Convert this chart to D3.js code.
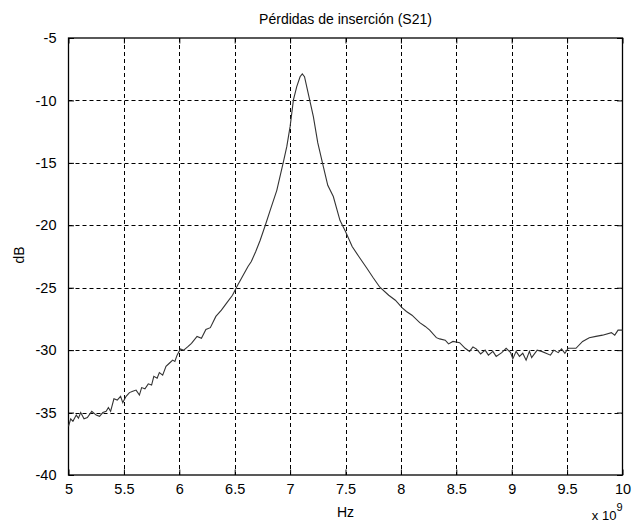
<!DOCTYPE html>
<html>
<head>
<meta charset="utf-8">
<script src="https://cdn.jsdelivr.net/npm/d3@7"></script>
<style>
  body{margin:0;background:#fff;}
  text{font-family:"Liberation Sans",Arial,sans-serif;fill:#000;}
</style>
</head>
<body>
<div id="chart"></div>
<script>
// frequency in units of 1e9 Hz
var freq=[5.00,5.02,5.04,5.07,5.09,5.11,5.14,5.17,5.21,5.25,5.28,5.31,5.34,5.36,5.38,5.41,5.44,5.47,5.49,
  5.52,5.55,5.58,5.61,5.64,5.66,5.69,5.72,5.75,5.77,5.80,5.82,5.85,5.88,5.91,5.94,5.96,5.98,6.01,6.04,
  6.08,6.11,6.16,6.20,6.24,6.28,6.33,6.38,6.43,6.48,6.52,6.57,6.62,6.65,6.69,6.73,6.78,6.82,6.88,6.94,
  6.97,7.00,7.03,7.06,7.09,7.11,7.13,7.17,7.21,7.25,7.30,7.34,7.39,7.45,7.50,7.56,7.62,7.69,7.75,7.81,
  7.89,7.95,8.01,8.05,8.10,8.17,8.22,8.26,8.32,8.35,8.40,8.43,8.47,8.53,8.58,8.62,8.65,8.68,8.72,8.76,
  8.79,8.83,8.86,8.91,8.95,8.99,9.01,9.04,9.07,9.10,9.13,9.16,9.18,9.23,9.27,9.31,9.35,9.38,9.42,9.45,
  9.48,9.51,9.58,9.64,9.70,9.76,9.82,9.90,9.93,9.96,10.0];
var s21=[-36.1,-35.5,-35.7,-35.2,-35.45,-35.0,-35.5,-35.4,-34.9,-35.2,-35.3,-35.0,-34.9,-34.6,-34.9,-33.9,-34.0,-33.7,-34.2,
  -33.7,-33.4,-33.3,-33.2,-33.6,-33.0,-33.1,-32.7,-32.8,-32.1,-32.25,-31.8,-32.0,-31.3,-31.05,-30.8,-30.9,-30.4,-29.9,-30.0,
  -29.7,-29.45,-28.9,-29.05,-28.35,-28.2,-27.3,-26.8,-26.2,-25.6,-24.9,-24.1,-23.3,-22.9,-22.1,-21.2,-19.9,-18.8,-17.2,-14.9,
  -13.7,-12.1,-9.96,-8.9,-8.1,-7.88,-8.1,-9.7,-11.3,-13.4,-15.3,-16.8,-17.7,-19.6,-20.5,-21.7,-22.5,-23.4,-24.2,-24.96,
  -25.6,-26.0,-26.6,-26.9,-27.2,-27.8,-28.1,-28.4,-29.0,-29.1,-29.2,-29.5,-29.3,-29.4,-29.85,-30.1,-29.75,-29.9,-30.3,-30.0,
  -30.4,-30.1,-30.5,-30.2,-29.85,-30.2,-30.7,-30.1,-30.5,-30.25,-30.8,-30.1,-30.6,-30.0,-30.1,-30.25,-30.4,-30.0,-30.2,-29.9,
  -30.25,-29.85,-29.85,-29.3,-29.0,-28.9,-28.8,-28.6,-28.8,-28.4,-28.4];
var xTicks=[5,5.5,6,6.5,7,7.5,8,8.5,9,9.5,10];
var yTicks=[-40,-35,-30,-25,-20,-15,-10,-5];
var title='Pérdidas de inserción (S21)';
var xLabel='Hz';
var yLabel='dB';

var width=632, height=524;
var plotLeft=68.5, plotRight=622.5, plotTop=38, plotBottom=475;

var svg=d3.select('#chart').append('svg')
  .attr('width',width)
  .attr('height',height);

var x=d3.scaleLinear().domain([5,10]).range([plotLeft,plotRight]);
var y=d3.scaleLinear().domain([-40,-5]).range([plotBottom,plotTop]);

// plain hyphen minus, like the original figure
function fmt(d){return String(d);}

// grid
svg.append('g').selectAll('line')
  .data(xTicks.slice(1,-1))
  .enter().append('line')
  .attr('x1',function(d){return Math.round(x(d))+0.5;})
  .attr('x2',function(d){return Math.round(x(d))+0.5;})
  .attr('y1',plotTop).attr('y2',plotBottom)
  .attr('stroke','#000').attr('stroke-width',1)
  .attr('stroke-dasharray','4,3');
svg.append('g').selectAll('line')
  .data(yTicks.slice(1,-1))
  .enter().append('line')
  .attr('y1',function(d){return Math.round(y(d))+0.5;})
  .attr('y2',function(d){return Math.round(y(d))+0.5;})
  .attr('x1',plotLeft).attr('x2',plotRight)
  .attr('stroke','#000').attr('stroke-width',1)
  .attr('stroke-dasharray','4,3');

// axes, ticks pointing inward on all sides
var tk=5.5;
svg.append('g').attr('transform','translate(0,'+plotBottom+')')
  .call(d3.axisBottom(x).tickValues(xTicks).tickSizeInner(-tk).tickSizeOuter(0).tickPadding(9).tickFormat(fmt))
  .call(function(g){g.select('.domain').remove();});
svg.append('g').attr('transform','translate(0,'+plotTop+')')
  .call(d3.axisTop(x).tickValues(xTicks).tickSizeInner(-tk).tickSizeOuter(0).tickFormat(''))
  .call(function(g){g.select('.domain').remove();});
svg.append('g').attr('transform','translate('+plotLeft+',0)')
  .call(d3.axisLeft(y).tickValues(yTicks).tickSizeInner(-tk).tickSizeOuter(0).tickPadding(12).tickFormat(fmt))
  .call(function(g){g.select('.domain').remove();});
svg.append('g').attr('transform','translate('+plotRight+',0)')
  .call(d3.axisRight(y).tickValues(yTicks).tickSizeInner(-tk).tickSizeOuter(0).tickFormat(''))
  .call(function(g){g.select('.domain').remove();});

svg.selectAll('.tick text')
  .style('font-family','"Liberation Sans",Arial,sans-serif')
  .style('font-size','14.5px')
  .attr('fill','#000');
svg.selectAll('.tick line').attr('stroke','#000');

svg.append('rect')
  .attr('x',plotLeft).attr('y',plotTop)
  .attr('width',plotRight-plotLeft).attr('height',plotBottom-plotTop)
  .attr('fill','none').attr('stroke','#000').attr('stroke-width',1.3);

// curve
var line=d3.line()
  .x(function(d,i){return x(freq[i]);})
  .y(function(d){return y(d);});
svg.append('path')
  .datum(s21)
  .attr('d',line)
  .attr('fill','none')
  .attr('stroke','#333')
  .attr('stroke-width',1.1);

// labels
svg.append('text')
  .attr('x',(plotLeft+plotRight)/2).attr('y',24)
  .attr('text-anchor','middle')
  .style('font-size','14px')
  .text(title);
svg.append('text')
  .attr('x',(plotLeft+plotRight)/2).attr('y',517)
  .attr('text-anchor','middle')
  .style('font-size','14px')
  .text(xLabel);
svg.append('text')
  .attr('transform','translate(24,'+255+') rotate(-90)')
  .attr('text-anchor','middle')
  .style('font-size','14px')
  .text(yLabel);
var ex=svg.append('text')
  .attr('x',plotRight).attr('y',520)
  .attr('text-anchor','end')
  .style('font-size','13px');
ex.append('tspan').text('x 10');
ex.append('tspan').attr('dy',-9).style('font-size','11px').text('9');
</script>
</body>
</html>
